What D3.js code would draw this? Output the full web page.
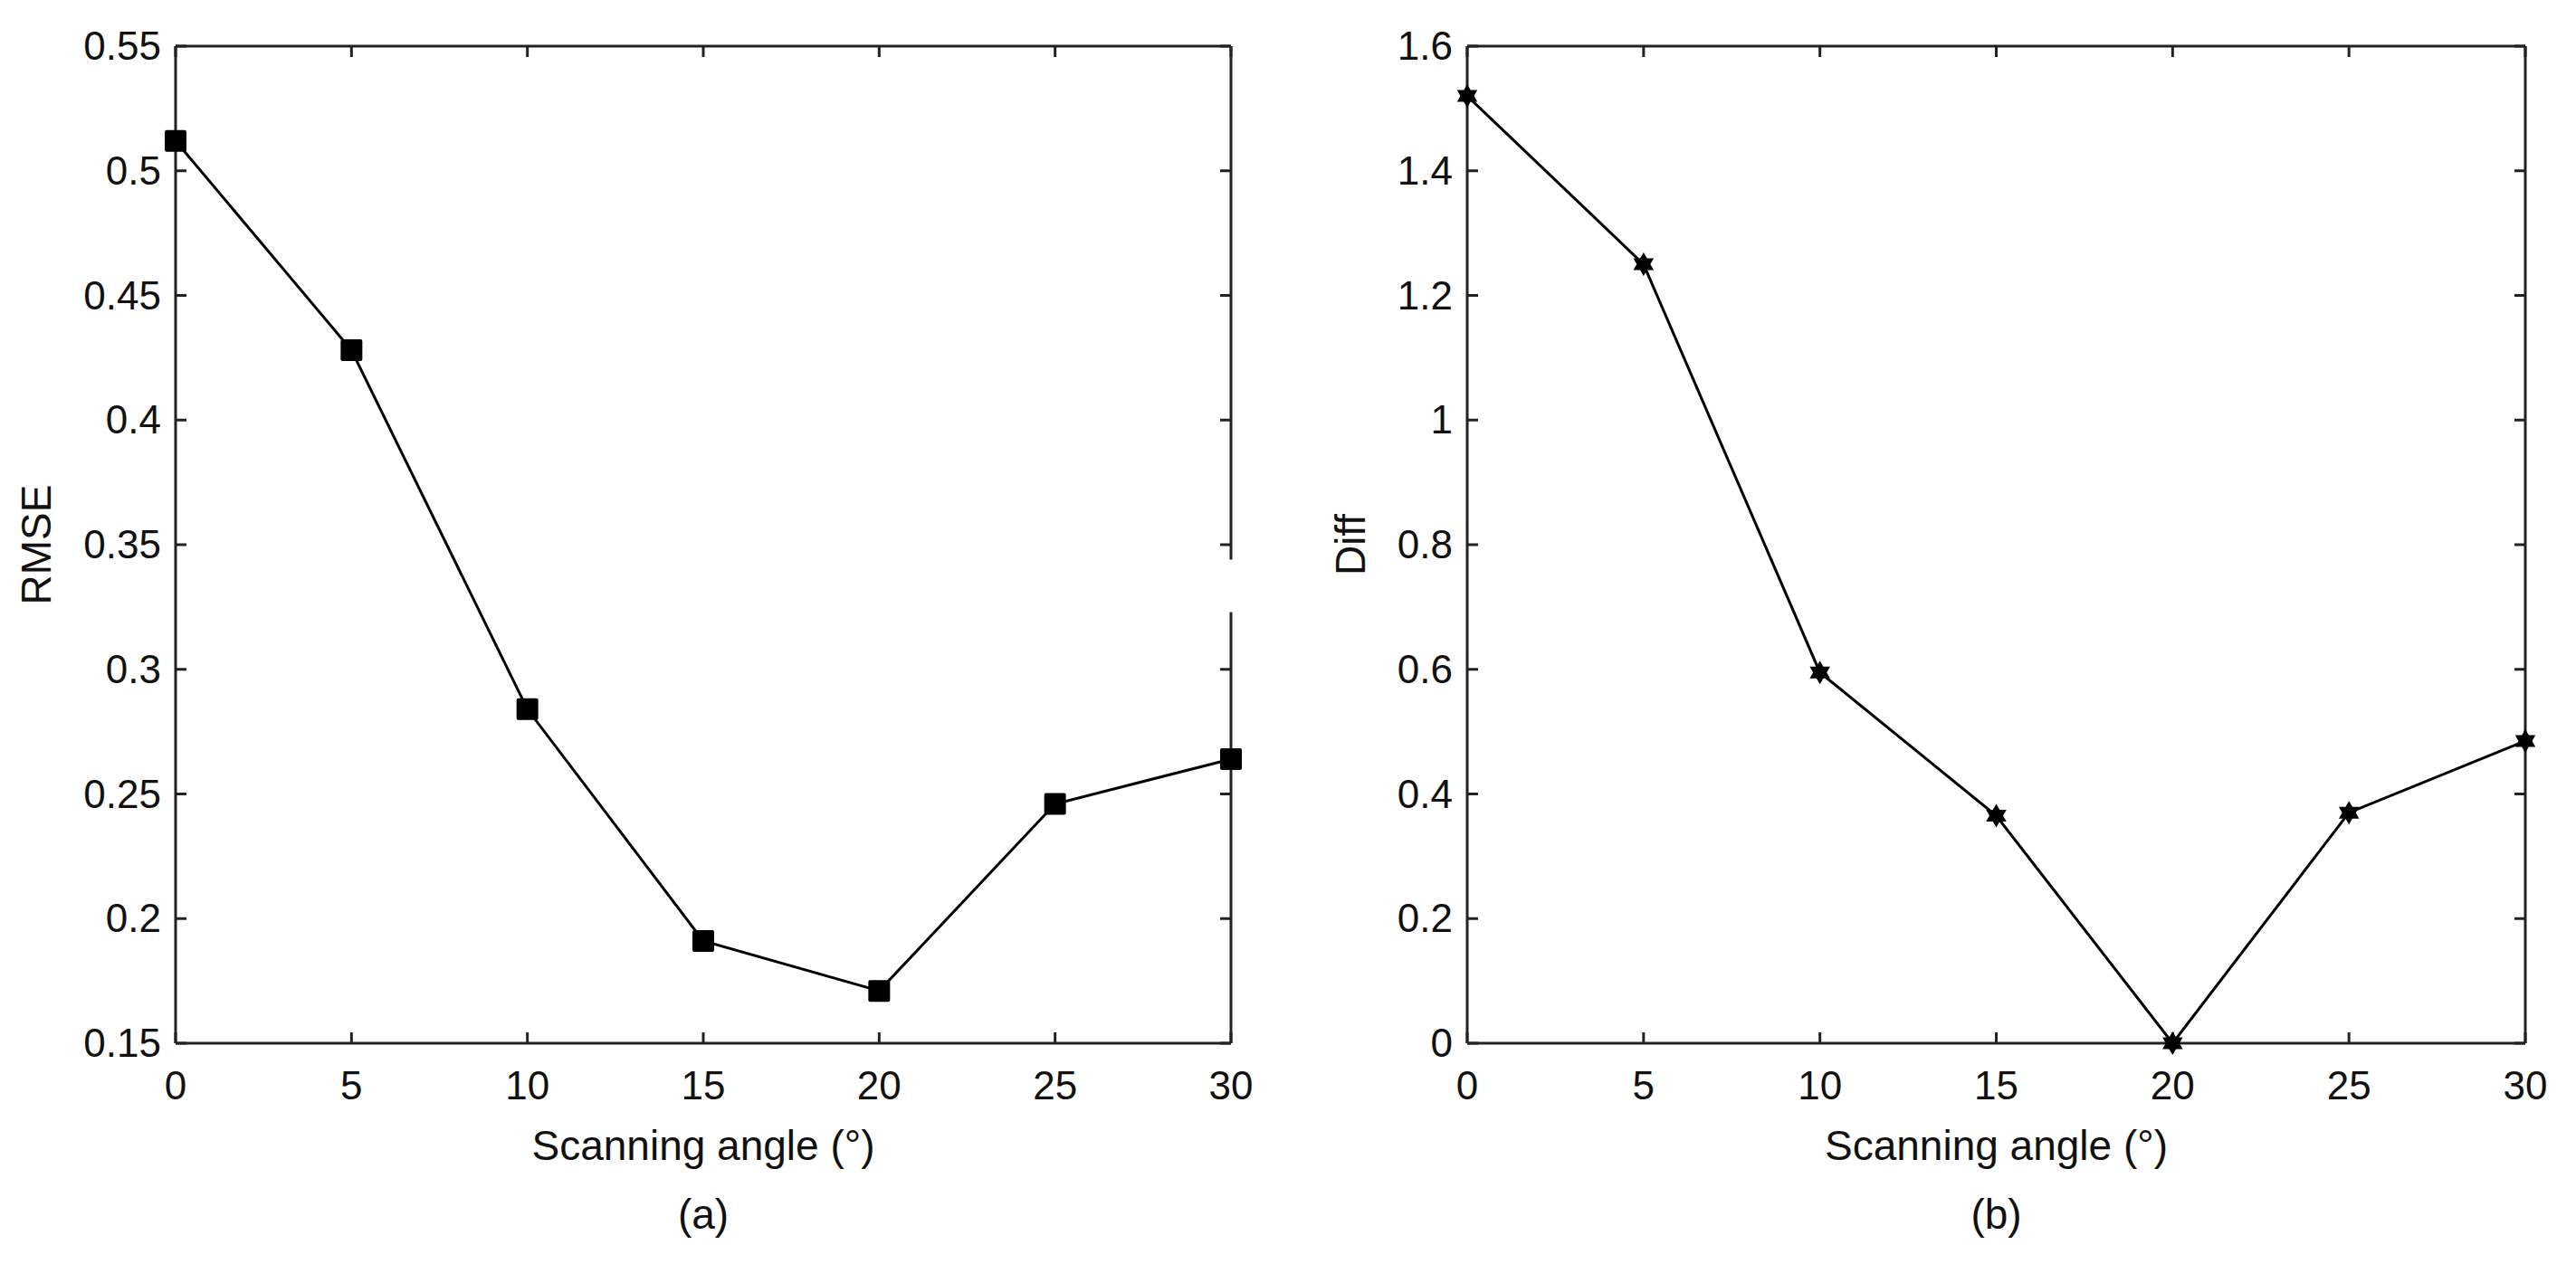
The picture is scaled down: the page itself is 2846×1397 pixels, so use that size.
<!DOCTYPE html>
<html><head><meta charset="utf-8">
<script src="https://cdn.jsdelivr.net/npm/d3@7"></script>
<style>body{margin:0;background:#fff}svg{display:block}text{font-family:"Liberation Sans",Arial,sans-serif;fill:#111}</style>
</head><body><svg id="c" width="2846" height="1397"></svg>
<script>
const angles = [0, 5, 10, 15, 20, 25, 30];
const rmse = [0.512, 0.428, 0.284, 0.191, 0.171, 0.246, 0.264];
const diff = [1.52, 1.25, 0.595, 0.365, 0.0, 0.37, 0.485];
const xTicks = [0, 5, 10, 15, 20, 25, 30];
const rmseTicks = [0.15, 0.2, 0.25, 0.3, 0.35, 0.4, 0.45, 0.5, 0.55];
const diffTicks = [0, 0.2, 0.4, 0.6, 0.8, 1, 1.2, 1.4, 1.6];

const svg = d3.select("#c");
const yTop = 51, yBot = 1153;
function panel(x0, x1, vals, yDom, yTicks, ylab, ylabX, cap, marker, gap) {
  const x = d3.scaleLinear().domain([0, 30]).range([x0, x1]);
  const y = d3.scaleLinear().domain(yDom).range([yBot, yTop]);
  const g = svg.append("g");
  const fs = 44, tl = 12;
  const fmt = v => String(+v.toFixed(2));
  const ln = (a,b,c,d)=>g.append("line").attr("x1",a).attr("y1",b).attr("x2",c).attr("y2",d)
      .attr("stroke","#222").attr("stroke-width",3);
  ln(x0,yTop,x1,yTop); ln(x0,yBot,x1,yBot); ln(x0,yTop,x0,yBot);
  if (gap) { ln(x1,yTop,x1,y(gap[1])); ln(x1,y(gap[0]),x1,yBot); } else ln(x1,yTop,x1,yBot);
  xTicks.forEach(t=>{ ln(x(t),yBot,x(t),yBot-tl); ln(x(t),yTop,x(t),yTop+tl);
    g.append("text").attr("x",x(t)).attr("y",yBot+62).attr("text-anchor","middle").attr("font-size",fs).text(t); });
  yTicks.forEach(t=>{ ln(x0,y(t),x0+tl,y(t)); ln(x1,y(t),x1-tl,y(t));
    g.append("text").attr("x",x0-16).attr("y",y(t)+15).attr("text-anchor","end").attr("font-size",fs).text(fmt(t)); });
  g.append("text").attr("x",(x0+x1)/2).attr("y",1282).attr("text-anchor","middle").attr("font-size",46).text("Scanning angle (°)");
  g.append("text").attr("x",(x0+x1)/2).attr("y",1358).attr("text-anchor","middle").attr("font-size",46).text(cap);
  g.append("text").attr("transform",`translate(${ylabX},${(yTop+yBot)/2}) rotate(-90)`).attr("text-anchor","middle").attr("font-size",46).text(ylab);
  const pts = angles.map((a,i)=>[x(a),y(vals[i])]);
  g.append("path").attr("d",d3.line()(pts)).attr("fill","none").attr("stroke","#000").attr("stroke-width",3);
  pts.forEach(p=>{
    if (marker==="square") g.append("rect").attr("x",p[0]-12).attr("y",p[1]-12).attr("width",24).attr("height",24).attr("rx",2).attr("fill","#000");
    else {
      const r=13;
      const tri=a=>d3.range(3).map(k=>{const t=a+k*2*Math.PI/3;return [p[0]+r*Math.sin(t),p[1]-r*Math.cos(t)];});
      [0,Math.PI].forEach(a=>g.append("path").attr("d","M"+tri(a).join("L")+"Z").attr("fill","#000"));
    }
  });
}
panel(194, 1360, rmse, [0.15,0.55], rmseTicks, "RMSE", 56, "(a)", "square", [0.323,0.344]);
panel(1621, 2790, diff, [0,1.6], diffTicks, "Diff", 1508, "(b)", "star", null);
</script></body></html>
